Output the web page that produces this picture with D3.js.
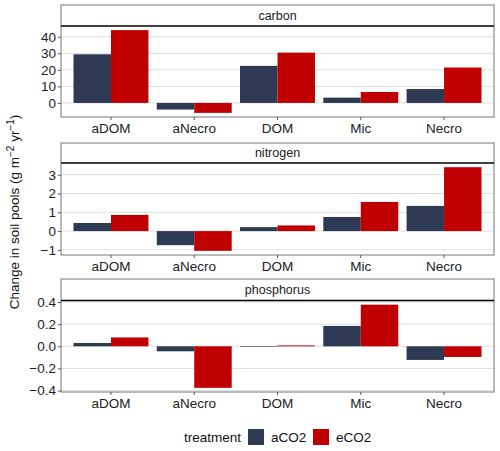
<!DOCTYPE html>
<html>
<head>
<meta charset="utf-8">
<script src="https://cdn.jsdelivr.net/npm/d3@7"></script>
<style>
  body { margin: 0; background: #fff; }
  svg { font-family: "Liberation Sans", Arial, sans-serif; }
</style>
</head>
<body>
<div id="chart"></div>
<script>
// soil pool change, faceted by element
const pools = ['aDOM', 'aNecro', 'DOM', 'Mic', 'Necro'];
const treatments = ['aCO2', 'eCO2'];
const colors = ['#2E3A53', '#C00000'];

const carbonA = [29.4, -4.0, 22.4, 3.2, 8.4];
const carbonE = [44.0, -6.0, 30.4, 6.6, 21.4];
const nitrogenA = [0.43, -0.75, 0.21, 0.75, 1.34];
const nitrogenE = [0.86, -1.05, 0.30, 1.55, 3.40];
const phosphorusA = [0.03, -0.045, -0.003, 0.184, -0.123];
const phosphorusE = [0.08, -0.375, 0.008, 0.376, -0.096];

const carbonTicks = [0, 10, 20, 30, 40];
const nitrogenTicks = [-1, 0, 1, 2, 3];
const phosphorusTicks = [-0.4, -0.2, 0.0, 0.2, 0.4];

const facets = [
  {name: 'carbon', vals: [carbonA, carbonE], ticks: carbonTicks, fmt: d3.format('d'), strip: [5, 26, 117]},
  {name: 'nitrogen', vals: [nitrogenA, nitrogenE], ticks: nitrogenTicks, fmt: d3.format('d'), strip: [143, 163, 255]},
  {name: 'phosphorus', vals: [phosphorusA, phosphorusE], ticks: phosphorusTicks, fmt: d3.format('.1f'), strip: [279, 300.5, 392]}
];

const W = 500, H = 451;
const left = 61, right = 494;

const svg = d3.select('#chart').append('svg')
  .attr('width', W).attr('height', H);

// ggplot discrete expansion: 0.6 each side, bands of width 1 -> 0.1 outer padding
const x = d3.scaleBand().domain(pools).range([left, right]).paddingOuter(0.1).paddingInner(0);
// dodge: bars take 0.9 of the band
const xSub = d3.scaleBand().domain(treatments).range([0, x.bandwidth() * 0.9]);

facets.forEach(f => {
  const [sTop, pTop, pBot] = f.strip;
  const all = f.vals.flat().concat([0]);
  const lo = d3.min(all), hi = d3.max(all);
  const pad = (hi - lo) * 0.05;
  const y = d3.scaleLinear().domain([lo - pad, hi + pad]).range([pBot, pTop]);

  const g = svg.append('g');

  // gridlines
  g.selectAll('line.grid')
    .data(f.ticks)
    .join('line')
    .attr('x1', left).attr('x2', right)
    .attr('y1', d => y(d)).attr('y2', d => y(d))
    .attr('stroke', '#dedede').attr('stroke-width', 1);

  // bars
  f.vals.forEach((series, ti) => {
    g.selectAll(null)
      .data(series)
      .join('rect')
      .attr('x', (d, i) => x(pools[i]) + x.bandwidth() * 0.05 + xSub(treatments[ti]))
      .attr('width', xSub.bandwidth())
      .attr('y', d => Math.min(y(d), y(0)))
      .attr('height', d => Math.max(Math.abs(y(d) - y(0)), 0.6))
      .attr('fill', colors[ti]);
  });

  // strip
  g.append('rect')
    .attr('x', left).attr('y', sTop)
    .attr('width', right - left).attr('height', pBot - sTop)
    .attr('fill', 'none').attr('stroke', '#777');
  g.append('line')
    .attr('x1', left).attr('x2', right)
    .attr('y1', pTop).attr('y2', pTop)
    .attr('stroke', '#000').attr('stroke-width', 1.3);
  g.append('text')
    .attr('x', (left + right) / 2).attr('y', (sTop + pTop) / 2)
    .attr('dy', '0.35em').attr('text-anchor', 'middle')
    .attr('font-size', 12.5).attr('fill', '#1a1a1a')
    .text(f.name);

  // y axis
  const ya = g.append('g').attr('transform', `translate(${left},0)`)
    .call(d3.axisLeft(y).tickValues(f.ticks).tickFormat(f.fmt).tickSize(3).tickPadding(2));
  ya.select('.domain').remove();
  ya.selectAll('line').attr('stroke', '#555');
  ya.selectAll('text').attr('font-size', 13.5).attr('fill', '#222').attr('font-family', '"Liberation Sans", Arial, sans-serif');

  // x axis
  const xa = g.append('g').attr('transform', `translate(0,${pBot})`)
    .call(d3.axisBottom(x).tickSize(3).tickPadding(3));
  xa.select('.domain').remove();
  xa.selectAll('line').attr('stroke', '#555');
  xa.selectAll('text').attr('font-size', 13.5).attr('fill', '#222').attr('font-family', '"Liberation Sans", Arial, sans-serif');
});

// y title
const yt = svg.append('text')
  .attr('transform', 'translate(19,212) rotate(-90)')
  .attr('text-anchor', 'middle')
  .attr('font-size', 13.5).attr('fill', '#111');
yt.append('tspan').text('Change in soil pools (g m');
yt.append('tspan').attr('dy', -5).attr('font-size', 10).text('\u22122');
yt.append('tspan').attr('dy', 5).text(' yr');
yt.append('tspan').attr('dy', -5).attr('font-size', 10).text('\u22121');
yt.append('tspan').attr('dy', 5).text(')');

// legend
const leg = svg.append('g');
leg.append('text').attr('x', 184).attr('y', 437).attr('dy', '0.35em')
  .attr('font-size', 13.5).attr('fill', '#111').text('treatment');
const keyX = [248, 313];
treatments.forEach((t, i) => {
  leg.append('rect').attr('x', keyX[i]).attr('y', 429).attr('width', 16).attr('height', 16)
    .attr('fill', colors[i]);
  leg.append('text').attr('x', keyX[i] + 23).attr('y', 437).attr('dy', '0.35em')
    .attr('font-size', 13.5).attr('fill', '#111').text(t);
});
</script>
</body>
</html>
